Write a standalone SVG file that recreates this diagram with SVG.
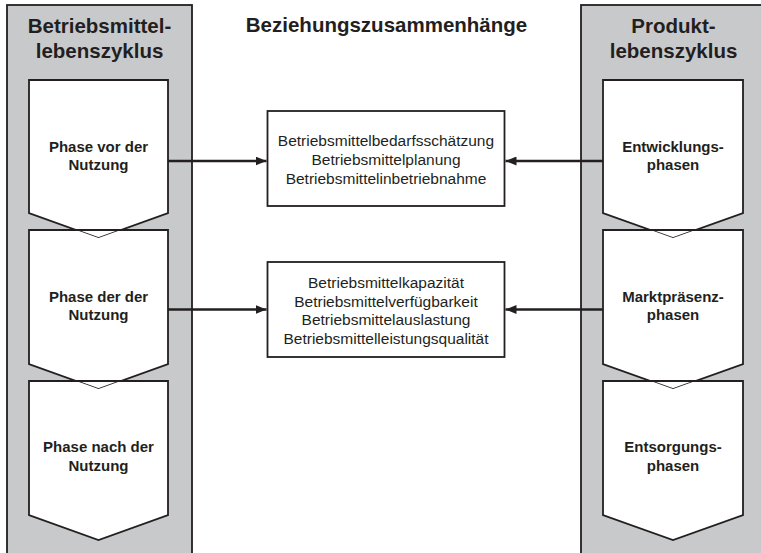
<svg xmlns="http://www.w3.org/2000/svg" width="761" height="553" viewBox="0 0 761 553">
<defs>
<style>
.col{fill:#c8c9cb;stroke:#231f20;stroke-width:1.8}
.fill{fill:#fff;stroke:none}
.outl{fill:none;stroke:#231f20;stroke-width:1.8;stroke-linejoin:miter}
.box{fill:#fff;stroke:#231f20;stroke-width:1.8}
.conn{fill:none;stroke:#231f20;stroke-width:2.4}
.h{font-family:"Liberation Sans",Arial,sans-serif;font-weight:bold;font-size:20.5px;fill:#231f20;text-anchor:middle}
.p{font-family:"Liberation Sans",Arial,sans-serif;font-weight:bold;font-size:15px;fill:#231f20;text-anchor:middle}
.t{font-family:"Liberation Sans",Arial,sans-serif;font-size:15.5px;fill:#231f20;text-anchor:middle}
</style>
<marker id="arr" viewBox="0 0 10 10" refX="10" refY="5" markerWidth="11" markerHeight="9" markerUnits="userSpaceOnUse" orient="auto" preserveAspectRatio="none">
<path d="M0,0 L10,5 L0,10 Z" fill="#231f20"/>
</marker>
</defs>
<rect width="761" height="553" fill="#fff"/>

<g id="col-left">
<rect class="col" x="7" y="5" width="185" height="560"/>
<text class="h" x="99.5" y="32.5">Betriebsmittel-</text>
<text class="h" x="99.5" y="58">lebenszyklus</text>
</g>
<g id="col-right">
<rect class="col" x="581" y="5" width="200" height="560"/>
<text class="h" x="673.5" y="32.5">Produkt-</text>
<text class="h" x="673.5" y="58">lebenszyklus</text>
</g>

<text id="title" class="h" x="386.5" y="32">Beziehungszusammenhänge</text>

<g id="phase-vor">
<path class="box" d="M29,80 H168 V213 L98.5,238 L29,213 Z"/>
<text class="p" x="98.5" y="151.5">Phase vor der</text>
<text class="p" x="98.5" y="170">Nutzung</text>
</g>
<g id="phase-waehrend">
<path class="fill" d="M29,230 H76.3 L98.5,238 L120.7,230 H168 V364 L98.5,389 L29,364 Z"/>
<path class="outl" d="M29,230 H168 V364 L98.5,389 L29,364 Z"/>
<text class="p" x="98.5" y="301.5">Phase der der</text>
<text class="p" x="98.5" y="320">Nutzung</text>
</g>
<g id="phase-nach">
<path class="fill" d="M29,381 H76.3 L98.5,389 L120.7,381 H168 V515 L98.5,540 L29,515 Z"/>
<path class="outl" d="M29,381 H168 V515 L98.5,540 L29,515 Z"/>
<text class="p" x="98.5" y="451.5">Phase nach der</text>
<text class="p" x="98.5" y="470.5">Nutzung</text>
</g>

<g id="entwicklung">
<path class="box" d="M603,80 H743 V213 L673,238 L603,213 Z"/>
<text class="p" x="673" y="151.5">Entwicklungs-</text>
<text class="p" x="673" y="170">phasen</text>
</g>
<g id="marktpraesenz">
<path class="fill" d="M603,230 H650.7 L673,238 L695.3,230 H743 V364 L673,389 L603,364 Z"/>
<path class="outl" d="M603,230 H743 V364 L673,389 L603,364 Z"/>
<text class="p" x="673" y="301.5">Marktpräsenz-</text>
<text class="p" x="673" y="320">phasen</text>
</g>
<g id="entsorgung">
<path class="fill" d="M603,381 H650.7 L673,389 L695.3,381 H743 V515 L673,540 L603,515 Z"/>
<path class="outl" d="M603,381 H743 V515 L673,540 L603,515 Z"/>
<text class="p" x="673" y="451.5">Entsorgungs-</text>
<text class="p" x="673" y="470.5">phasen</text>
</g>

<g id="box-planung">
<rect class="box" x="267.5" y="111" width="237" height="95"/>
<text class="t" x="386" y="146">Betriebsmittelbedarfsschätzung</text>
<text class="t" x="386" y="165">Betriebsmittelplanung</text>
<text class="t" x="386" y="184">Betriebsmittelinbetriebnahme</text>
</g>
<g id="box-nutzung">
<rect class="box" x="267.5" y="262" width="237" height="95"/>
<text class="t" x="386" y="288">Betriebsmittelkapazität</text>
<text class="t" x="386" y="306.5">Betriebsmittelverfügbarkeit</text>
<text class="t" x="386" y="325">Betriebsmittelauslastung</text>
<text class="t" x="386" y="343.5">Betriebsmittelleistungsqualität</text>
</g>

<g id="connectors">
<path class="conn" d="M168,161 H266.5" marker-end="url(#arr)"/>
<path class="conn" d="M603,161 H505.5" marker-end="url(#arr)"/>
<path class="conn" d="M168,309.5 H266.5" marker-end="url(#arr)"/>
<path class="conn" d="M603,309.5 H505.5" marker-end="url(#arr)"/>
</g>
</svg>
